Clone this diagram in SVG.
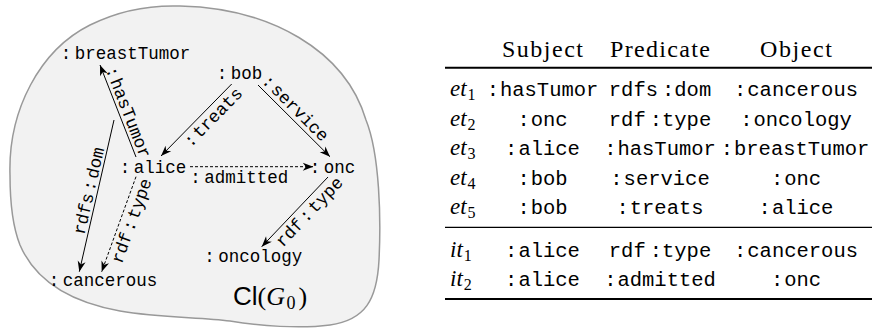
<svg xmlns="http://www.w3.org/2000/svg" width="872" height="329" viewBox="0 0 872 329">
<style>
.n{font-family:"Liberation Mono","DejaVu Sans Mono",monospace;font-size:17.5px;fill:#000}
.el{font-family:"Liberation Mono","DejaVu Sans Mono",monospace;font-size:17.5px;fill:#000;text-anchor:middle}
.t{font-family:"Liberation Mono","DejaVu Sans Mono",monospace;font-size:20.5px;fill:#000;text-anchor:middle}
.h{font-family:"Liberation Serif","DejaVu Serif",serif;font-size:24px;fill:#000;text-anchor:middle}
.lab{font-family:"Liberation Serif","DejaVu Serif",serif;font-style:italic;font-size:23px;fill:#000}
.sub{font-style:normal;font-size:16px}
.e{fill:none;stroke:#000;stroke-width:1;marker-end:url(#ah)}
.d{stroke-dasharray:3 2}
.rule{stroke:#000}
</style>
<defs>
<marker id="ah" viewBox="-11 -5 12 10" refX="0" refY="0" markerWidth="12" markerHeight="10" markerUnits="userSpaceOnUse" orient="auto">
<path d="M0,0 L-10.5,-4 L-7.5,0 L-10.5,4 Z" fill="#000" stroke="none"/>
</marker>
</defs>

<g id="blob">
<path d="M10,175 C8,110 40,50 90,25 C120,10 150,5 180,6 C270,8 345,50 366,120 C380,155 381,220 379,260 C377,300 365,320 330,325 C300,329 260,326 230,321 C200,317 160,318 120,311 C70,302 35,280 20,245 C12,225 10,200 10,175 Z" fill="#f2f2f2" stroke="#999" stroke-width="1.5"/>
</g>

<g id="connectors">
<line class="e" x1="136" y1="157" x2="100" y2="65"/>
<line class="e" x1="114" y1="120" x2="79.3" y2="271.7"/>
<line class="e d" x1="136" y1="176.7" x2="101.7" y2="271.7"/>
<line class="e" x1="231.7" y1="84" x2="161" y2="156"/>
<line class="e" x1="258" y1="85" x2="330" y2="156.7"/>
<line class="e d" x1="190" y1="166.7" x2="313.3" y2="166.7"/>
<line class="e" x1="328" y1="177" x2="261.7" y2="246.7"/>
<text class="el" transform="translate(123,114.3) rotate(68.6)">:<tspan dx="2">hasTumor</tspan></text>
<text class="el" transform="translate(94.3,192.1) rotate(-77.1)">rdfs<tspan dx="2.5">:</tspan><tspan dx="2.5">dom</tspan></text>
<text class="el" transform="translate(136.8,222.6) rotate(-70.1)">rdf<tspan dx="2.5">:</tspan><tspan dx="2.5">type</tspan></text>
<text class="el" transform="translate(217.1,121.1) rotate(-45.5)">:<tspan dx="2">treats</tspan></text>
<text class="el" transform="translate(291.5,112.1) rotate(44.9)">:<tspan dx="2">service</tspan></text>
<text class="el" transform="translate(313.4,215.7) rotate(-46.4)">rdf<tspan dx="2.5">:</tspan><tspan dx="2.5">type</tspan></text>
<text class="n" x="190.3" y="183">:<tspan dx="3.5">admitted</tspan></text>
</g>

<g id="breastTumor"><text class="n" x="60.8" y="59">:<tspan dx="3.5">breastTumor</tspan></text></g>
<g id="bob"><text class="n" x="216.8" y="79">:<tspan dx="3.5">bob</tspan></text></g>
<g id="alice"><text class="n" x="119.8" y="173">:<tspan dx="3.5">alice</tspan></text></g>
<g id="onc"><text class="n" x="309.8" y="173">:<tspan dx="3.5">onc</tspan></text></g>
<g id="oncology"><text class="n" x="204.3" y="262">:<tspan dx="3.5">oncology</tspan></text></g>
<g id="cancerous"><text class="n" x="48.8" y="286">:<tspan dx="3.5">cancerous</tspan></text></g>

<g id="title">
<text y="305" font-size="26" fill="#000"><tspan x="233" font-family="Liberation Sans,sans-serif">Cl</tspan><tspan font-family="Liberation Serif,serif">(</tspan><tspan font-family="Liberation Serif,serif" font-style="italic">G</tspan><tspan font-family="Liberation Serif,serif" font-size="18" dx="1.5" dy="4">0</tspan><tspan font-family="Liberation Serif,serif" dx="3" dy="-4">)</tspan></text>
</g>

<g id="table">
<line class="rule" x1="445" y1="67.7" x2="872" y2="67.7" stroke-width="2"/>
<line class="rule" x1="445" y1="227.3" x2="872" y2="227.3" stroke-width="1.2"/>
<line class="rule" x1="445" y1="299" x2="872" y2="299" stroke-width="2"/>
<text class="h" x="542.5" y="57.3" textLength="81" lengthAdjust="spacing">Subject</text>
<text class="h" x="660" y="57.3" textLength="100" lengthAdjust="spacing">Predicate</text>
<text class="h" x="796" y="57.3" textLength="72" lengthAdjust="spacing">Object</text>

<text class="lab" x="450" y="96">et<tspan class="sub" dx="1" dy="4">1</tspan></text>
<text class="t" x="542.5" y="96">:<tspan dx="1">hasTumor</tspan></text>
<text class="t" x="660" y="96">rdfs<tspan dx="4">:dom</tspan></text>
<text class="t" x="796" y="96">:<tspan dx="1">cancerous</tspan></text>

<text class="lab" x="450" y="125.5">et<tspan class="sub" dx="1" dy="4">2</tspan></text>
<text class="t" x="542.5" y="125.5">:<tspan dx="1">onc</tspan></text>
<text class="t" x="660" y="125.5">rdf<tspan dx="4">:type</tspan></text>
<text class="t" x="796" y="125.5">:<tspan dx="1">oncology</tspan></text>

<text class="lab" x="450" y="155">et<tspan class="sub" dx="1" dy="4">3</tspan></text>
<text class="t" x="542.5" y="155">:<tspan dx="1">alice</tspan></text>
<text class="t" x="660" y="155">:<tspan dx="1">hasTumor</tspan></text>
<text class="t" x="795" y="155">:<tspan dx="1">breastTumor</tspan></text>

<text class="lab" x="450" y="184.5">et<tspan class="sub" dx="1" dy="4">4</tspan></text>
<text class="t" x="542.5" y="184.5">:<tspan dx="1">bob</tspan></text>
<text class="t" x="660" y="184.5">:<tspan dx="1">service</tspan></text>
<text class="t" x="796" y="184.5">:<tspan dx="1">onc</tspan></text>

<text class="lab" x="450" y="214">et<tspan class="sub" dx="1" dy="4">5</tspan></text>
<text class="t" x="542.5" y="214">:<tspan dx="1">bob</tspan></text>
<text class="t" x="660" y="214">:<tspan dx="1">treats</tspan></text>
<text class="t" x="796" y="214">:<tspan dx="1">alice</tspan></text>

<text class="lab" x="450" y="257.3">it<tspan class="sub" dx="1" dy="4">1</tspan></text>
<text class="t" x="542.5" y="257.3">:<tspan dx="1">alice</tspan></text>
<text class="t" x="660" y="257.3">rdf<tspan dx="4">:type</tspan></text>
<text class="t" x="796" y="257.3">:<tspan dx="1">cancerous</tspan></text>

<text class="lab" x="450" y="286">it<tspan class="sub" dx="1" dy="4">2</tspan></text>
<text class="t" x="542.5" y="286">:<tspan dx="1">alice</tspan></text>
<text class="t" x="660" y="286">:<tspan dx="1">admitted</tspan></text>
<text class="t" x="796" y="286">:<tspan dx="1">onc</tspan></text>
</g>
</svg>
